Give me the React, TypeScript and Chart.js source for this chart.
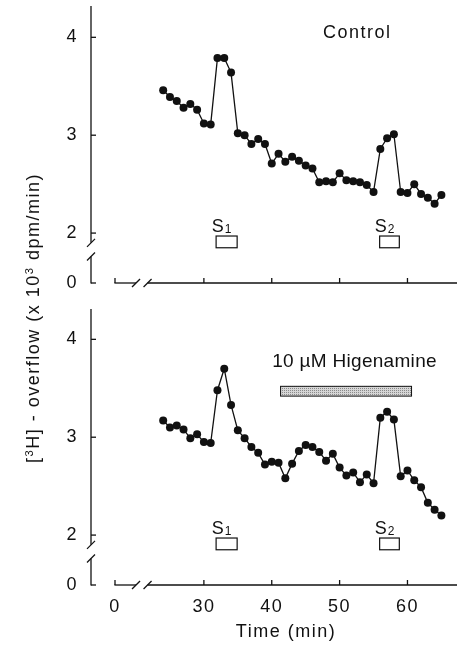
import React, { useEffect, useRef } from 'react';
import { Chart, registerables } from 'chart.js';

Chart.register(...registerables);

// ---------- data ----------
const TIME_MIN = [24, 25, 26, 27, 28, 29, 30, 31, 32, 33, 34, 35, 36, 37, 38, 39, 40, 41, 42, 43, 44, 45, 46, 47, 48, 49, 50, 51, 52, 53, 54, 55, 56, 57, 58, 59, 60, 61, 62, 63, 64, 65];
const CONTROL_OVERFLOW = [3.46, 3.39, 3.35, 3.28, 3.32, 3.26, 3.12, 3.11, 3.79, 3.79, 3.64, 3.02, 3.0, 2.91, 2.96, 2.91, 2.71, 2.81, 2.73, 2.78, 2.74, 2.69, 2.66, 2.52, 2.53, 2.52, 2.61, 2.54, 2.53, 2.52, 2.49, 2.42, 2.86, 2.97, 3.01, 2.42, 2.41, 2.5, 2.4, 2.36, 2.3, 2.39];
const HIGENAMINE_OVERFLOW = [3.17, 3.1, 3.12, 3.08, 2.99, 3.03, 2.95, 2.94, 3.48, 3.7, 3.33, 3.07, 2.99, 2.9, 2.84, 2.72, 2.75, 2.74, 2.58, 2.73, 2.86, 2.92, 2.9, 2.85, 2.76, 2.83, 2.69, 2.61, 2.64, 2.54, 2.62, 2.53, 3.2, 3.26, 3.18, 2.6, 2.66, 2.56, 2.49, 2.33, 2.26, 2.2];

const X_TICK_VALUES = [30, 40, 50, 60];
const X_ZERO_AT = 16.9; // where the "0" of the broken time axis sits
const X_MAX = 67.3;
const X_BREAK = [20.0, 21.7];

const Y_TICK_VALUES = [2, 3, 4];
const Y_ZERO_AT = 1.49; // where the "0" of the broken overflow axis sits
const Y_BREAK = [1.76, 1.9];
const TOP_Y_MAX = 4.32;
const BOTTOM_Y_MAX = 4.31;

const STIM_NAMES = ['1', '2'];
const STIM_START = [31.8, 55.9];
const STIM_END = [34.9, 58.8];
const STIM_BOX_Y = [1.85, 1.97];
const STIM_LABEL_Y = 2.01;

const CONTROL_LABEL = 'Control';
const CONTROL_LABEL_X = 52.6;
const CONTROL_LABEL_Y = 4.04;

const DRUG_LABEL = '10 \u00b5M Higenamine';
const DRUG_LABEL_X = 52.2;
const DRUG_LABEL_Y = 3.77;
const DRUG_START = 41.3;
const DRUG_END = 60.6;
const DRUG_BAR_Y = [3.42, 3.52];

// ---------- style ----------
const FONT = '"Liberation Sans", Arial, Helvetica, sans-serif';
const INK = '#111';
const AXIS_GAP = 24;
const TICK_LEN = 5;

function line(ctx: CanvasRenderingContext2D, x0: number, y0: number, x1: number, y1: number) {
  ctx.beginPath();
  ctx.moveTo(x0, y0);
  ctx.lineTo(x1, y1);
  ctx.stroke();
}

function slash(ctx: CanvasRenderingContext2D, x: number, y: number) {
  line(ctx, x - 4, y + 4, x + 4, y - 4);
}

function drawStim(ctx: CanvasRenderingContext2D, xs: any, ys: any) {
  STIM_NAMES.forEach((n, i) => {
    const x0 = xs.getPixelForValue(STIM_START[i]);
    const x1 = xs.getPixelForValue(STIM_END[i]);
    const yt = ys.getPixelForValue(STIM_BOX_Y[1]);
    const yb = ys.getPixelForValue(STIM_BOX_Y[0]);
    ctx.fillStyle = '#fff';
    ctx.fillRect(x0, yt, x1 - x0, yb - yt);
    ctx.lineWidth = 1.2;
    ctx.strokeRect(x0, yt, x1 - x0, yb - yt);
    const cx = (x0 + x1) / 2 - 5;
    const base = ys.getPixelForValue(STIM_LABEL_Y);
    ctx.fillStyle = INK;
    ctx.textBaseline = 'alphabetic';
    ctx.textAlign = 'left';
    ctx.font = `18px ${FONT}`;
    const wS = ctx.measureText('S').width;
    ctx.font = `12px ${FONT}`;
    const wN = ctx.measureText(n).width;
    const start = cx - (wS + 1 + wN) / 2;
    ctx.font = `18px ${FONT}`;
    ctx.fillText('S', start, base);
    ctx.font = `12px ${FONT}`;
    ctx.fillText(n, start + wS + 1, base + 1);
  });
}

function drawControlNotes(ctx: CanvasRenderingContext2D, xs: any, ys: any) {
  ctx.fillStyle = INK;
  ctx.font = `18px ${FONT}`;
  ctx.textAlign = 'center';
  ctx.textBaseline = 'middle';
  (ctx as any).letterSpacing = '1.5px';
  ctx.fillText(CONTROL_LABEL, xs.getPixelForValue(CONTROL_LABEL_X), ys.getPixelForValue(CONTROL_LABEL_Y));
  (ctx as any).letterSpacing = '0px';
  drawStim(ctx, xs, ys);
}

function drawDrugNotes(ctx: CanvasRenderingContext2D, xs: any, ys: any) {
  ctx.fillStyle = INK;
  ctx.font = `19px ${FONT}`;
  ctx.textAlign = 'center';
  ctx.textBaseline = 'middle';
  (ctx as any).letterSpacing = '0.3px';
  ctx.fillText(DRUG_LABEL, xs.getPixelForValue(DRUG_LABEL_X), ys.getPixelForValue(DRUG_LABEL_Y));
  (ctx as any).letterSpacing = '0px';
  const x0 = xs.getPixelForValue(DRUG_START);
  const x1 = xs.getPixelForValue(DRUG_END);
  const yt = ys.getPixelForValue(DRUG_BAR_Y[1]);
  const yb = ys.getPixelForValue(DRUG_BAR_Y[0]);
  const pc = document.createElement('canvas');
  pc.width = 2;
  pc.height = 2;
  const p = pc.getContext('2d')!;
  p.fillStyle = '#d6d6d6';
  p.fillRect(0, 0, 2, 2);
  p.fillStyle = '#8a8a8a';
  p.fillRect(0, 0, 1, 1);
  const pat = ctx.createPattern(pc, 'repeat');
  ctx.fillStyle = pat || '#bbb';
  ctx.fillRect(x0, yt, x1 - x0, yb - yt);
  ctx.lineWidth = 1;
  ctx.strokeStyle = INK;
  ctx.strokeRect(x0, yt, x1 - x0, yb - yt);
  drawStim(ctx, xs, ys);
}

function brokenAxes(notes: (ctx: CanvasRenderingContext2D, xs: any, ys: any) => void) {
  return {
    id: 'brokenAxes',
    beforeDraw(chart: any) {
      chart.ctx.letterSpacing = '1.5px';
    },
    afterDraw(chart: any) {
      const { ctx, chartArea, scales } = chart;
      const xs = scales.x;
      const ys = scales.y;
      ctx.save();
      ctx.letterSpacing = '0px';
      ctx.strokeStyle = INK;
      ctx.lineWidth = 1.3;
      ctx.lineCap = 'butt';
      // vertical axis with break
      const ax = chartArea.left - AXIS_GAP;
      const yZero = ys.getPixelForValue(Y_ZERO_AT);
      const yb0 = ys.getPixelForValue(Y_BREAK[0]);
      const yb1 = ys.getPixelForValue(Y_BREAK[1]);
      line(ctx, ax, chartArea.top, ax, yb1);
      line(ctx, ax, yb0, ax, yZero + 0.6);
      slash(ctx, ax, yb1);
      slash(ctx, ax, yb0);
      [...Y_TICK_VALUES, Y_ZERO_AT].forEach((v) => {
        const y = ys.getPixelForValue(v);
        line(ctx, ax, y, ax + TICK_LEN, y);
      });
      // horizontal axis with break
      const by = chartArea.bottom;
      const x0 = xs.getPixelForValue(X_ZERO_AT);
      const xb0 = xs.getPixelForValue(X_BREAK[0]);
      const xb1 = xs.getPixelForValue(X_BREAK[1]);
      line(ctx, x0 - 0.6, by, xb0, by);
      line(ctx, xb1, by, chartArea.right, by);
      slash(ctx, xb0, by);
      slash(ctx, xb1, by);
      [X_ZERO_AT, ...X_TICK_VALUES].forEach((v) => {
        const x = xs.getPixelForValue(v);
        line(ctx, x, by, x, by - TICK_LEN);
      });
      notes(ctx, xs, ys);
      ctx.restore();
    },
  };
}

function panelConfig(values: number[], yMax: number, padTop: number, xAxisHeight: number, showX: boolean, notes: any): any {
  return {
    type: 'line',
    data: {
      datasets: [
        {
          data: TIME_MIN.map((t, i) => ({ x: t, y: values[i] })),
          borderColor: INK,
          borderWidth: 1.3,
          backgroundColor: INK,
          pointRadius: 4,
          pointBackgroundColor: INK,
          pointBorderColor: INK,
          pointBorderWidth: 0,
          tension: 0,
          clip: false,
        },
      ],
    },
    options: {
      responsive: false,
      animation: false,
      devicePixelRatio: 1,
      events: [],
      layout: { padding: { top: padTop, left: 0, right: 0, bottom: 0 } },
      plugins: { legend: { display: false }, tooltip: { enabled: false } },
      scales: {
        x: {
          type: 'linear',
          min: X_ZERO_AT,
          max: X_MAX,
          afterBuildTicks: (s: any) => {
            s.ticks = [X_ZERO_AT, ...X_TICK_VALUES].map((v) => ({ value: v }));
          },
          afterFit: (s: any) => {
            s.height = xAxisHeight;
            s.paddingLeft = 0;
            s.paddingRight = 0;
          },
          grid: { display: false, drawTicks: false },
          border: { display: false },
          ticks: {
            display: showX,
            autoSkip: false,
            maxRotation: 0,
            padding: 11,
            color: INK,
            font: { family: FONT, size: 18 },
            callback: (v: number) => (v === X_ZERO_AT ? '0' : String(v)),
          },
          title: {
            display: showX,
            text: 'Time (min)',
            color: INK,
            font: { family: FONT, size: 18 },
            padding: { top: 0, bottom: 8 },
          },
        },
        y: {
          type: 'linear',
          min: Y_ZERO_AT,
          max: yMax,
          afterBuildTicks: (s: any) => {
            s.ticks = [Y_ZERO_AT, ...Y_TICK_VALUES].map((v) => ({ value: v }));
          },
          afterFit: (s: any) => {
            s.width = 115;
            s.paddingTop = 0;
            s.paddingBottom = 0;
          },
          grid: { display: false, drawTicks: false },
          border: { display: false },
          ticks: {
            autoSkip: false,
            padding: 37,
            color: INK,
            font: { family: FONT, size: 18 },
            callback: (v: number) => (v === Y_ZERO_AT ? '0' : String(v)),
          },
        },
      },
    },
    plugins: [brokenAxes(notes)],
  };
}

export default function App() {
  const topRef = useRef<HTMLCanvasElement>(null);
  const botRef = useRef<HTMLCanvasElement>(null);

  useEffect(() => {
    const top = new Chart(topRef.current!, panelConfig(CONTROL_OVERFLOW, TOP_Y_MAX, 6, 17, false, drawControlNotes));
    const bot = new Chart(botRef.current!, panelConfig(HIGENAMINE_OVERFLOW, BOTTOM_Y_MAX, 9, 66, true, drawDrugNotes));
    return () => {
      top.destroy();
      bot.destroy();
    };
  }, []);

  return (
    <div style={{ position: 'absolute', left: 0, top: 0, width: 461, height: 651, background: '#fff', overflow: 'hidden' }}>
      <canvas ref={topRef} width={461} height={300} style={{ position: 'absolute', left: 0, top: 0, display: 'block' }} />
      <canvas ref={botRef} width={461} height={351} style={{ position: 'absolute', left: 0, top: 300, display: 'block' }} />
      <div
        style={{
          position: 'absolute',
          left: 33,
          top: 318,
          transform: 'translate(-50%, -50%) rotate(-90deg)',
          whiteSpace: 'nowrap',
          fontFamily: FONT,
          fontSize: 18,
          letterSpacing: '1.5px',
          color: INK,
          lineHeight: 1,
        }}
      >
        [<sup style={{ fontSize: '0.62em', verticalAlign: '0.55em', lineHeight: 0 }}>3</sup>H] - overflow (x 10
        <sup style={{ fontSize: '0.62em', verticalAlign: '0.55em', lineHeight: 0 }}>3</sup> dpm/min)
      </div>
    </div>
  );
}
